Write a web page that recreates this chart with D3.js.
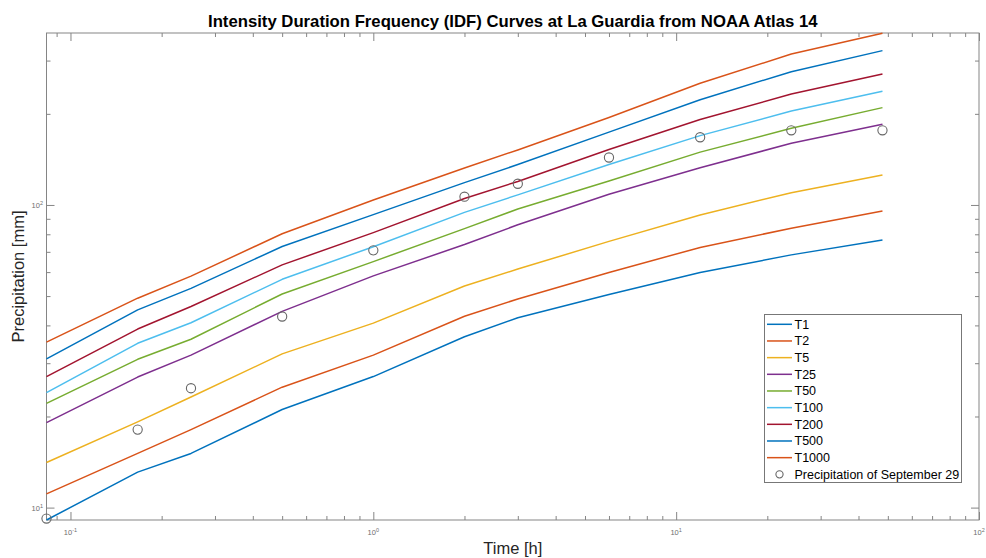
<!DOCTYPE html>
<html><head><meta charset="utf-8">
<script src="https://cdn.jsdelivr.net/npm/d3@7"></script>
<style>body{margin:0;background:#fff} svg{display:block;font-family:"Liberation Sans",Arial,Helvetica,sans-serif}</style>
</head><body>
<svg id="chart" width="986" height="558"></svg>
<script>
// ---------- data ----------
const durations = [1/12, 1/6, 0.25, 0.5, 1, 2, 3, 6, 12, 24, 48]; // hours
const seriesNames = ["T1","T2","T5","T25","T50","T100","T200","T500","T1000"];
const T1    = [9.1, 13.1, 15.1, 21.1, 27.1, 36.7, 42.4, 50.6, 59.8, 68.4, 76.6];
const T2    = [11.1, 15.1, 18.1, 25.0, 31.9, 42.9, 48.9, 59.8, 72.4, 83.8, 95.5];
const T5    = [14.1, 19.2, 23.2, 32.2, 40.7, 54.0, 61.4, 75.8, 92.7, 109.8, 125.6];
const T25   = [19.1, 27.0, 31.9, 44.5, 58.3, 74.0, 86.0, 108.5, 132.7, 159.9, 184.8];
const T50   = [22.1, 30.9, 36.0, 50.8, 65.0, 83.5, 97.0, 120.0, 149.5, 179.2, 209.7];
const T100  = [24.0, 34.9, 40.8, 56.8, 72.8, 94.5, 108.0, 136.0, 169.5, 204.3, 237.4];
const T200  = [27.1, 38.9, 46.2, 63.4, 81.0, 105.0, 119.6, 152.4, 191.5, 232.6, 270.9];
const T500  = [31.0, 45.0, 53.0, 72.9, 92.9, 118.5, 136.0, 174.0, 222.7, 275.7, 323.6];
const T1000 = [35.2, 49.2, 58.2, 80.3, 103.9, 132.5, 152.0, 194.5, 252.4, 315.3, 369.0];
const observed = [9.2, 18.1, 24.8, 42.8, 70.8, 106.5, 117.5, 143.5, 167.4, 176.5, 176.5];
const observedName = "Precipitation of September 29";
const seriesValues = [T1, T2, T5, T25, T50, T100, T200, T500, T1000];
const colors = ["#0072BD","#D95319","#EDB120","#7E2F8E","#77AC30","#4DBEEE","#A2142F","#0072BD","#D95319"];
const xMajorTicks = [0.1, 1, 10, 100];
const xTickExps = ["-1", "0", "1", "2"];
const yMajorTicks = [10, 100];
const yTickExps = ["1", "2"];
const xDomain = [1/12, 100];
const yDomain = [9.1, 370];
const titleText = "Intensity Duration Frequency (IDF) Curves at La Guardia from NOAA Atlas 14";
const xLabel = "Time [h]";
const yLabel = "Precipitation [mm]";

// ---------- layout ----------
const L = 46.5, R = 979, T = 33, B = 520;
const svg = d3.select("#chart");
const x = d3.scaleLog().domain(xDomain).range([L, R]);
const y = d3.scaleLog().domain(yDomain).range([B, T]);

function minors(domain) {
  const out = [];
  for (let e = -3; e <= 3; e++) for (let k = 2; k <= 9; k++) {
    const v = k * Math.pow(10, e);
    if (v >= domain[0] && v <= domain[1]) out.push(v);
  }
  return out;
}
const xMinor = minors(xDomain), yMinor = minors(yDomain);
const axisColor = "#858585";

// frame
svg.append("rect").attr("x", L).attr("y", T).attr("width", R - L).attr("height", B - T)
  .attr("fill", "#fff").attr("stroke", axisColor).attr("stroke-width", 1);

function styleAxis(g) {
  g.select(".domain").remove();
  g.selectAll("line").attr("stroke", axisColor).attr("stroke-width", 1);
  g.selectAll("text").remove();
}
// bottom / top
svg.append("g").attr("transform", `translate(0,${B})`)
  .call(d3.axisBottom(x).tickValues(xMajorTicks).tickSizeInner(-8).tickSizeOuter(0)).call(styleAxis);
svg.append("g").attr("transform", `translate(0,${B})`)
  .call(d3.axisBottom(x).tickValues(xMinor).tickSizeInner(-4).tickSizeOuter(0)).call(styleAxis);
svg.append("g").attr("transform", `translate(0,${T})`)
  .call(d3.axisTop(x).tickValues(xMajorTicks).tickSizeInner(-8).tickSizeOuter(0)).call(styleAxis);
svg.append("g").attr("transform", `translate(0,${T})`)
  .call(d3.axisTop(x).tickValues(xMinor).tickSizeInner(-4).tickSizeOuter(0)).call(styleAxis);
// left / right
svg.append("g").attr("transform", `translate(${L},0)`)
  .call(d3.axisLeft(y).tickValues(yMajorTicks).tickSizeInner(-8).tickSizeOuter(0)).call(styleAxis);
svg.append("g").attr("transform", `translate(${L},0)`)
  .call(d3.axisLeft(y).tickValues(yMinor).tickSizeInner(-4).tickSizeOuter(0)).call(styleAxis);
svg.append("g").attr("transform", `translate(${R},0)`)
  .call(d3.axisRight(y).tickValues(yMajorTicks).tickSizeInner(-8).tickSizeOuter(0)).call(styleAxis);
svg.append("g").attr("transform", `translate(${R},0)`)
  .call(d3.axisRight(y).tickValues(yMinor).tickSizeInner(-4).tickSizeOuter(0)).call(styleAxis);

// tick labels (10^n)
const tickColor = "#6e6e6e";
xMajorTicks.forEach((v, i) => {
  const t = svg.append("text").attr("x", x(v)).attr("y", 535).attr("text-anchor", "middle")
    .attr("fill", tickColor).attr("font-size", 7.5);
  t.append("tspan").text("10");
  t.append("tspan").attr("font-size", 5.5).attr("dy", -3).text(xTickExps[i]);
});
yMajorTicks.forEach((v, i) => {
  const t = svg.append("text").attr("x", 43).attr("y", y(v) + 3).attr("text-anchor", "end")
    .attr("fill", tickColor).attr("font-size", 7.5);
  t.append("tspan").text("10");
  t.append("tspan").attr("font-size", 5.5).attr("dy", -3).text(yTickExps[i]);
});

// series lines
const line = d3.line().x((d, i) => x(durations[i])).y(d => y(d));
const plot = svg.append("g");
seriesValues.forEach((vals, i) => {
  plot.append("path").datum(vals).attr("d", line).attr("fill", "none")
    .attr("stroke", colors[i]).attr("stroke-width", 1.5).attr("stroke-linejoin", "round");
});
plot.selectAll("circle.obs").data(observed).join("circle").attr("class", "obs")
  .attr("cx", (d, i) => x(durations[i])).attr("cy", d => y(d)).attr("r", 4.6)
  .attr("fill", "none").attr("stroke", "#666").attr("stroke-width", 1.1);

// title & labels
const title = svg.append("text").attr("x", (L + R) / 2).attr("y", 26.5).attr("text-anchor", "middle")
  .attr("font-weight", "bold").attr("font-size", 15).attr("fill", "#000").text(titleText);
const tl = title.node().getComputedTextLength();
title.attr("font-size", 15 * 610 / tl);

svg.append("text").attr("x", (L + R) / 2).attr("y", 554).attr("text-anchor", "middle")
  .attr("font-size", 16.5).attr("fill", "#262626").text(xLabel);
svg.append("text").attr("transform", `translate(24,${(T + B) / 2}) rotate(-90)`).attr("text-anchor", "middle")
  .attr("font-size", 16.5).attr("fill", "#262626").text(yLabel);

// legend
const lg = svg.append("g");
lg.append("rect").attr("x", 764.5).attr("y", 314.5).attr("width", 197).attr("height", 168)
  .attr("fill", "#fff").attr("stroke", "#777").attr("stroke-width", 1);
const rowY = i => 324.3 + i * 16.67;
seriesNames.forEach((name, i) => {
  lg.append("line").attr("x1", 767).attr("x2", 792).attr("y1", rowY(i)).attr("y2", rowY(i))
    .attr("stroke", colors[i]).attr("stroke-width", 1.5);
  lg.append("text").attr("x", 794.5).attr("y", rowY(i) + 4.3).attr("font-size", 12.5)
    .attr("fill", "#000").text(name);
});
lg.append("circle").attr("cx", 779.5).attr("cy", rowY(9)).attr("r", 3.6)
  .attr("fill", "none").attr("stroke", "#666").attr("stroke-width", 1.1);
lg.append("text").attr("x", 794.5).attr("y", rowY(9) + 4.3).attr("font-size", 12.5)
  .attr("fill", "#000").text(observedName);
</script>
</body></html>
